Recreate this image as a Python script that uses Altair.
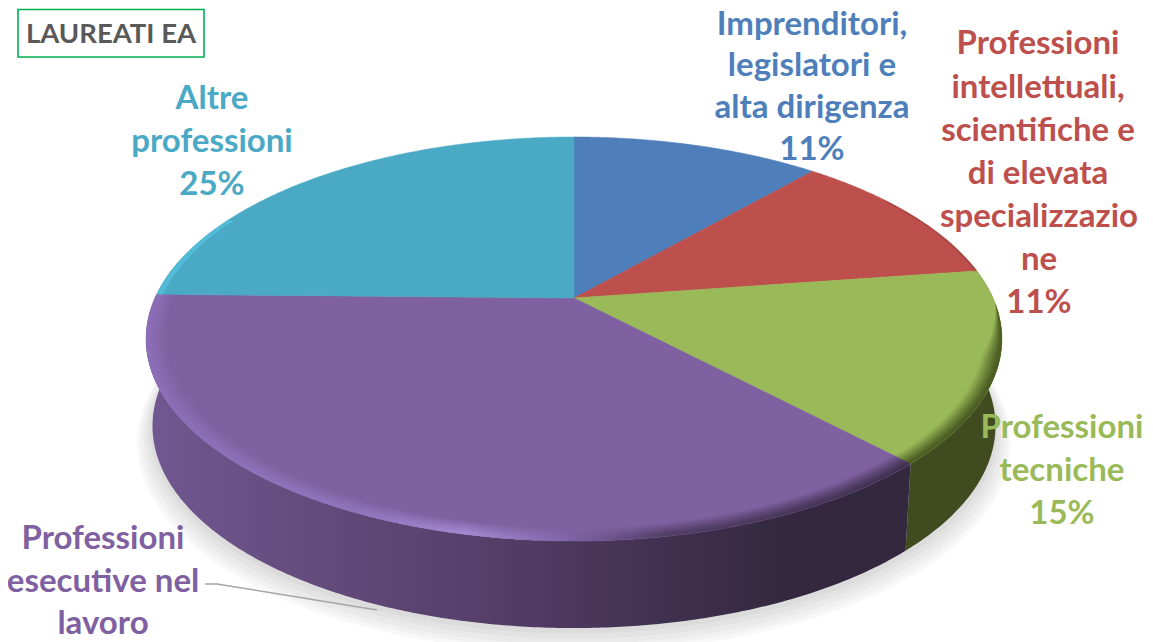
import math
import altair as alt
import pandas as pd

# ---- data ----
categories = ["Imprenditori, legislatori e alta dirigenza",
              "Professioni intellettuali, scientifiche e di elevata specializzazione",
              "Professioni tecniche", "Professioni esecutive nel lavoro", "Altre professioni"]
shares = [11.4, 11.3, 15.3, 37.3, 24.7]
colors = ["#4f7fbb", "#bd4f4c", "#9aba59", "#7f60a0", "#4aa9c4"]

label_lines = [
    ("Imprenditori,", 812, 35, colors[0]), ("legislatori e", 812, 76, colors[0]),
    ("alta dirigenza", 812, 118, colors[0]), ("11%", 812, 160, colors[0]),
    ("Professioni", 1038, 54, colors[1]), ("intellettuali,", 1038, 98, colors[1]),
    ("scientifiche e", 1038, 141, colors[1]), ("di elevata", 1038, 184, colors[1]),
    ("specializzazio", 1039, 227, colors[1]), ("ne", 1039, 270, colors[1]), ("11%", 1039, 313, colors[1]),
    ("Professioni", 1062, 438, colors[2]), ("tecniche", 1062, 481, colors[2]), ("15%", 1062, 524, colors[2]),
    ("Professioni", 103, 549, colors[3]), ("esecutive nel", 103, 592, colors[3]), ("lavoro", 103, 634, colors[3]),
    ("Altre", 212, 109, colors[4]), ("professioni", 212, 152, colors[4]), ("25%", 212, 195, colors[4]),
]

# ---- pie geometry (a tilted disc in perspective) ----
CX, CY = 574, 298
A, B, K = 419, 193.7, 0.203
DEPTH, BOTTOM_X = 87, 0.985
OFF = 8


def top(theta, r=1.0):
    t = math.radians(theta)
    u, v = r * math.sin(t), -r * math.cos(t)
    w = 1 - K * v
    return [CX + A * u / w, CY + B * v / w]


def low(theta, r=1.0, extra=0.0):
    x, y = top(theta, r)
    return [CX + BOTTOM_X * (x - CX), y + DEPTH + extra]


def arc(fn, a, b, **kw):
    n = max(2, int(abs(b - a) * 2))
    return [fn(a + (b - a) * i / n, **kw) for i in range(n + 1)]


def feature(coords, color="#000", kind="Polygon"):
    geom = [coords + [coords[0]]] if kind == "Polygon" else coords
    return {"type": "Feature", "properties": {"color": color},
            "geometry": {"type": kind, "coordinates": geom}}


proj = dict(type="identity", scale=1, translate=[-OFF, -OFF])


def geo(features, **mark):
    return alt.Chart(alt.Data(values=features)).mark_geoshape(**mark).project(**proj)


def grad(stops, x1=0, x2=1):
    return alt.Gradient(gradient="linear", x1=x1, x2=x2, y1=0, y2=0,
                        stops=[alt.GradientStop(offset=o, color=c) for o, c in stops])


cum = [0]
for s in shares:
    cum.append(cum[-1] + s)
ang = [c * 3.6 for c in cum]

layers = []

# soft shadow under the disc
for r, e in [(1.035, 14), (1.028, 12), (1.02, 10), (1.012, 7), (1.005, 4)]:
    layers.append(geo([feature(arc(low, 0, 360, r=r, extra=e))], fill="#000000", opacity=0.028, stroke=None))

# side walls
GREEN_START, PURPLE_END = 80, 281
green_wall = arc(top, GREEN_START, ang[3]) + arc(low, ang[3], GREEN_START)
layers.append(geo([feature(green_wall)], fill="#404c20", stroke=None))
purple_wall = arc(top, ang[3], PURPLE_END) + arc(low, PURPLE_END, ang[3])
layers.append(geo([feature(purple_wall)],
                  fill=grad([(0, "#34283f"), (0.16, "#33283f"), (0.36, "#443354"),
                             (0.55, "#553e68"), (0.78, "#634b7c"), (1, "#715891")], x1=1, x2=0),
                  stroke=None))

# top face
wedges = [feature([[CX, CY]] + arc(top, ang[i], ang[i + 1]), colors[i]) for i in range(5)]
layers.append(geo(wedges, strokeWidth=0.5).encode(
    fill=alt.Fill("properties.color:N", scale=None),
    stroke=alt.Stroke("properties.color:N", scale=None)))


def band(a, b, depth, taper_start=False):
    """Rim strip along the edge; optionally growing from nothing at its first angle."""
    outer = arc(top, a, b)
    n = len(outer) - 1
    inner = []
    for i in range(n, -1, -1):
        f = i / n
        d = depth * min(1.0, f * 3) if taper_start else depth
        inner.append(top(a + (b - a) * f, r=1 - d))
    return feature(outer + inner)


RIM_STEPS = [(0.044, 0.12), (0.038, 0.16), (0.032, 0.2), (0.026, 0.25), (0.02, 0.3), (0.014, 0.4), (0.008, 0.5)]

# bevelled rim: purple arc, light on the left and dark on the right
rim = grad([(0, "#8c6fb8"), (0.28, "#9176bf"), (0.42, "#a68bd6"), (0.55, "#7f66a8"),
            (0.68, "#4d3a60"), (1, "#3a2d4a")])
for d, op in RIM_STEPS:
    layers.append(geo([band(ang[3], ang[4], d)], fill=rim, opacity=op, stroke=None))
# dark rim of the green slice, teal highlight, thin edge of red
for d, op in RIM_STEPS:
    layers.append(geo([band(ang[2] + 10, ang[3], d * 0.9, taper_start=True)],
                      fill="#46561f", opacity=op, stroke=None))
layers.append(geo([band(ang[4], ang[4] + 25, 0.015)], fill="#52bfdd", opacity=0.8, stroke=None))
layers.append(geo([band(ang[1] + 15, ang[2], 0.006)], fill="#8a3a38", opacity=0.4, stroke=None))

# leader line of the purple label
leader = [[205, 584], [217, 584], [377, 610]]
layers.append(geo([feature(leader, kind="LineString")], filled=False, stroke="#a6a6a6", strokeWidth=1.5))

# title box
box = pd.DataFrame({"x": [18 - OFF], "x2": [204 - OFF], "y": [9.5 - OFF], "y2": [57 - OFF]})
layers.append(alt.Chart(box).mark_rect(fill="white", stroke="#00b050", strokeWidth=1.6).encode(
    x=alt.X("x:Q", scale=None), x2="x2:Q", y=alt.Y("y:Q", scale=None), y2="y2:Q"))
title_df = pd.DataFrame({"text": ["LAUREATI EA"], "x": [111 - OFF], "y": [43 - OFF]})
layers.append(alt.Chart(title_df).mark_text(font="Lato", fontWeight="bold", fontSize=27.5, color="#595959",
                                            align="center", baseline="alphabetic").encode(
    x=alt.X("x:Q", scale=None), y=alt.Y("y:Q", scale=None), text="text:N"))

# slice labels
lab = pd.DataFrame(label_lines, columns=["text", "x", "y", "color"])
lab["x"] -= OFF
lab["y"] -= OFF
layers.append(alt.Chart(lab).mark_text(font="Lato", fontWeight="bold", fontSize=33,
                                       align="center", baseline="alphabetic").encode(
    x=alt.X("x:Q", scale=None), y=alt.Y("y:Q", scale=None), text="text:N",
    color=alt.Color("color:N", scale=None)))

chart = alt.layer(*layers).properties(width=1137, height=634, padding=0, autosize="none",
                                      background="white").configure_view(stroke=None)
chart.save("out.html", embed_options={"renderer": "svg", "actions": False})
